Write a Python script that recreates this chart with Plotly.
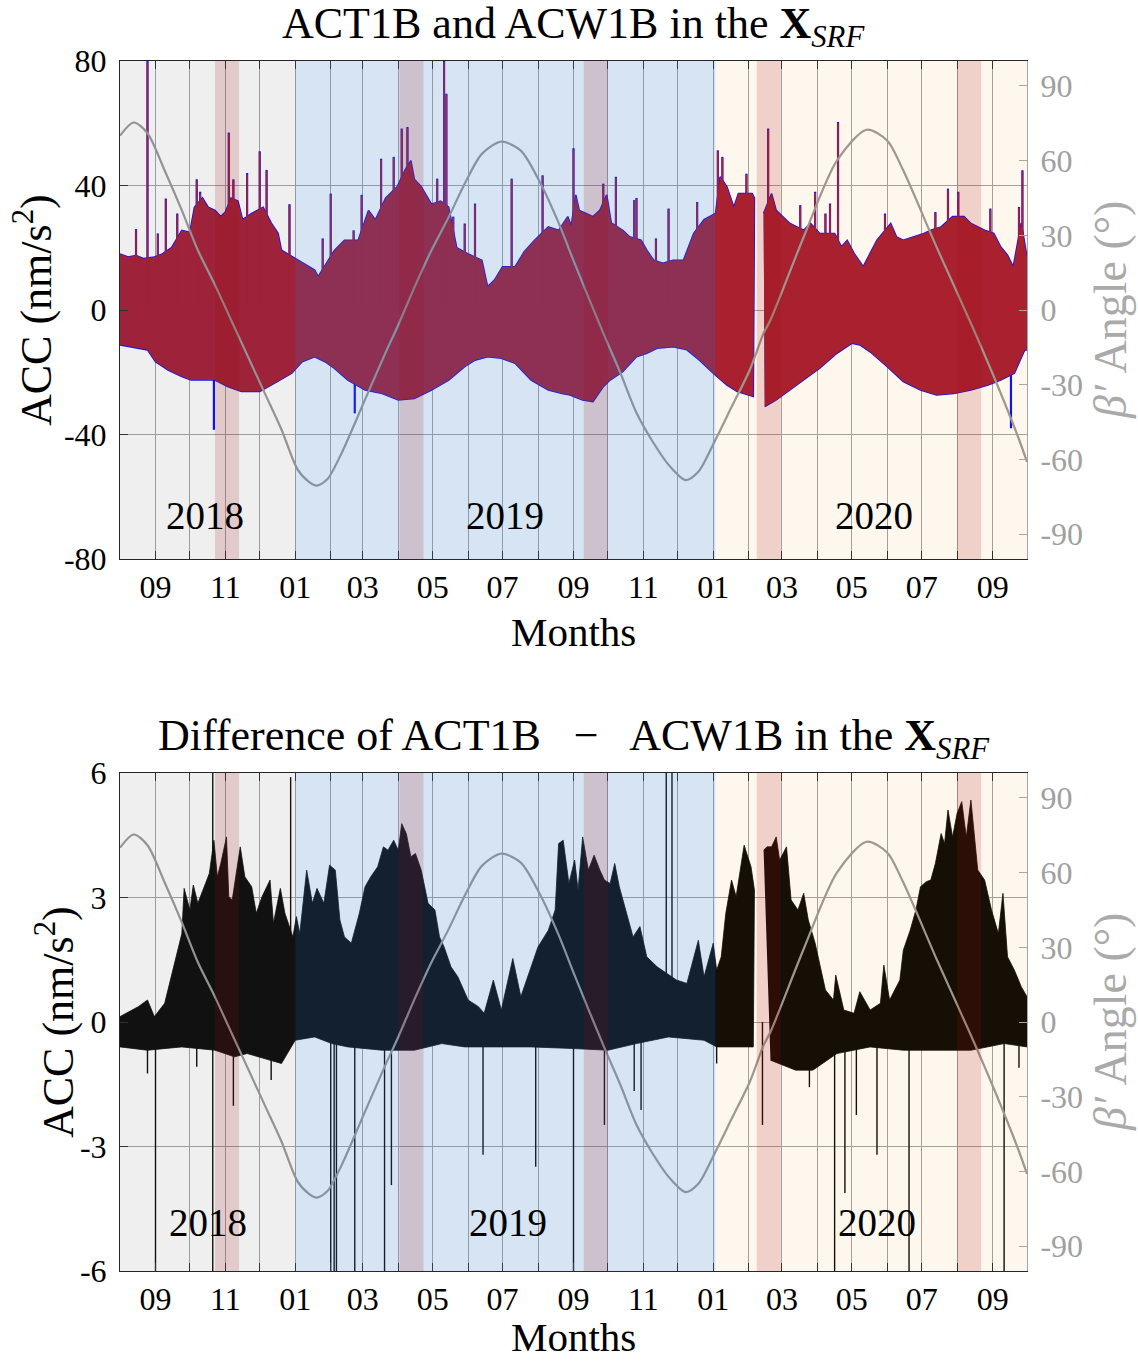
import plotly.graph_objects as go
from plotly.subplots import make_subplots
import pandas as pd

X_START, X_END = "2018-08-01", "2020-10-01"
DATA_GAP = ("2020-02-06", "2020-02-14")  # no data between these dates

# ---------------- top panel: ACT1B / ACW1B envelopes (nm/s^2) ----------------
TOP_UP = [
    ("2018-08-01", 18), ("2018-08-08", 17), ("2018-08-15", 17.5), ("2018-08-22", 16.5),
    ("2018-08-31", 17), ("2018-09-07", 18), ("2018-09-15", 20), ("2018-09-24", 25.6),
    ("2018-10-01", 25), ("2018-10-05", 33), ("2018-10-12", 36), ("2018-10-17", 33),
    ("2018-10-23", 32), ("2018-10-28", 30), ("2018-11-01", 31.5), ("2018-11-06", 36),
    ("2018-11-12", 35), ("2018-11-16", 29), ("2018-11-24", 31), ("2018-12-04", 33),
    ("2018-12-11", 28), ("2018-12-17", 24.6), ("2018-12-20", 19.2), ("2018-12-30", 17),
    ("2019-01-09", 15), ("2019-01-18", 12.8), ("2019-01-21", 10.7), ("2019-01-28", 15),
    ("2019-02-04", 19), ("2019-02-13", 22.4), ("2019-02-25", 22.4), ("2019-03-06", 32),
    ("2019-03-12", 29), ("2019-03-21", 36), ("2019-03-31", 39.6), ("2019-04-07", 45),
    ("2019-04-12", 48), ("2019-04-15", 42), ("2019-04-21", 39.6), ("2019-04-30", 34),
    ("2019-05-08", 35), ("2019-05-15", 33), ("2019-05-22", 20), ("2019-06-01", 18),
    ("2019-06-13", 16), ("2019-06-18", 7.5), ("2019-06-24", 9.6), ("2019-07-01", 13.9),
    ("2019-07-12", 13.9), ("2019-07-20", 18.7), ("2019-07-29", 22.4), ("2019-08-10", 26.7),
    ("2019-08-19", 25.6), ("2019-08-27", 30), ("2019-08-30", 27), ("2019-09-03", 37),
    ("2019-09-06", 32), ("2019-09-12", 31), ("2019-09-18", 30), ("2019-09-24", 32),
    ("2019-09-30", 37), ("2019-10-04", 28), ("2019-10-14", 25.6), ("2019-10-20", 23.5),
    ("2019-10-30", 22.4), ("2019-11-04", 19.2), ("2019-11-10", 16), ("2019-11-18", 15),
    ("2019-11-27", 16), ("2019-12-06", 16), ("2019-12-10", 20), ("2019-12-15", 24.6),
    ("2019-12-24", 29), ("2020-01-03", 31), ("2020-01-07", 42.8), ("2020-01-13", 39.6),
    ("2020-01-19", 33), ("2020-01-23", 37.4), ("2020-02-04", 37.4), ("2020-02-06", 36),
    ("2020-02-14", 31), ("2020-02-21", 37.4), ("2020-02-25", 32), ("2020-03-02", 30),
    ("2020-03-08", 27.8), ("2020-03-20", 25.6), ("2020-03-26", 27.8), ("2020-04-03", 24.6),
    ("2020-04-16", 24.6), ("2020-04-22", 20.3), ("2020-04-27", 22.4), ("2020-05-03", 18.2),
    ("2020-05-11", 13.9), ("2020-05-17", 18.2), ("2020-05-23", 22.4), ("2020-06-04", 27.8),
    ("2020-06-09", 23.5), ("2020-06-15", 22.4), ("2020-06-24", 23.5), ("2020-07-03", 24.6),
    ("2020-07-09", 25.6), ("2020-07-18", 26.7), ("2020-07-28", 30), ("2020-08-07", 30),
    ("2020-08-13", 27.8), ("2020-08-19", 26.7), ("2020-08-25", 25.6), ("2020-09-02", 24.6),
    ("2020-09-08", 20.3), ("2020-09-14", 17.6), ("2020-09-19", 13.9), ("2020-09-23", 22),
    ("2020-09-26", 28), ("2020-10-01", 17),
]
TOP_LO = [
    ("2018-08-01", -11.2), ("2018-08-25", -12.8), ("2018-09-01", -16.6), ("2018-09-12", -19.3),
    ("2018-09-24", -21.4), ("2018-10-02", -22.5), ("2018-10-23", -22.5), ("2018-11-03", -24.6),
    ("2018-11-15", -26.2), ("2018-12-01", -26.2), ("2018-12-14", -23.5), ("2018-12-29", -20.3),
    ("2019-01-07", -16.6), ("2019-01-18", -15), ("2019-01-27", -16.6), ("2019-02-04", -18.7),
    ("2019-02-16", -22.5), ("2019-03-03", -25.7), ("2019-03-18", -26.8), ("2019-04-01", -28.9),
    ("2019-04-15", -28.4), ("2019-04-30", -25.7), ("2019-05-15", -22.5), ("2019-05-29", -18.2),
    ("2019-06-07", -16.1), ("2019-06-18", -15), ("2019-06-30", -15.5), ("2019-07-12", -17.1),
    ("2019-07-26", -22.5), ("2019-08-10", -25.7), ("2019-08-22", -26.8), ("2019-08-29", -27.3),
    ("2019-09-09", -28.9), ("2019-09-18", -29.4), ("2019-09-27", -24.6), ("2019-10-03", -22.5),
    ("2019-10-14", -19.8), ("2019-10-26", -15), ("2019-11-04", -13.9), ("2019-11-13", -12.3),
    ("2019-11-27", -11.8), ("2019-12-09", -12.8), ("2019-12-20", -16.1), ("2020-01-01", -20.3),
    ("2020-01-13", -24.1), ("2020-01-22", -26.2), ("2020-02-05", -27.8), ("2020-02-15", -31),
    ("2020-02-25", -28.9), ("2020-03-08", -25.7), ("2020-03-20", -22.5), ("2020-04-03", -18.7),
    ("2020-04-18", -13.9), ("2020-05-01", -10.7), ("2020-05-08", -11.2), ("2020-05-17", -13.4),
    ("2020-06-01", -18.2), ("2020-06-15", -23), ("2020-06-30", -25.7), ("2020-07-14", -27.3),
    ("2020-07-29", -26.8), ("2020-08-13", -25.7), ("2020-08-28", -24.1), ("2020-09-08", -22.5),
    ("2020-09-20", -20.3), ("2020-09-29", -12.8), ("2020-10-01", -12.8),
]
TOP_SPIKE_DATES = [
    "2018-08-15", "2018-08-25", "2018-09-03", "2018-09-10", "2018-09-20", "2018-10-07",
    "2018-10-10", "2018-11-04", "2018-11-08", "2018-11-20", "2018-12-01", "2018-12-07",
    "2018-12-27", "2019-01-25", "2019-02-01", "2019-02-21", "2019-02-28", "2019-03-17",
    "2019-03-28", "2019-04-04", "2019-04-09", "2019-05-05", "2019-05-11", "2019-05-13",
    "2019-05-19", "2019-05-29", "2019-06-07", "2019-07-09", "2019-08-05", "2019-09-01",
    "2019-09-27", "2019-10-08", "2019-10-24", "2019-10-26", "2019-11-12", "2019-11-23",
    "2019-12-18", "2020-01-05", "2020-01-09", "2020-01-30", "2020-02-18", "2020-03-17",
    "2020-03-30", "2020-04-08", "2020-04-12", "2020-04-19", "2020-05-30", "2020-07-13",
    "2020-07-24", "2020-08-02", "2020-08-30", "2020-09-24", "2020-09-27",
]
TOP_SPIKE_VALS = [
    26, 80, 24.6, 35.8, 31, 42, 38, 57, 42, 44, 51, 45, 34, 23, 37.4, 25.6, 37, 48.6,
    49.2, 58.3, 58.8, 42.2, 80, 69.5, 30, 27.8, 34.2, 42.2, 43.3, 52, 40.6, 42.8, 35.3,
    36, 23, 32.6, 34.7, 51.3, 49.2, 43.8, 58.3, 33.7, 38, 31, 34.2, 60.4, 31, 31.5, 39,
    38, 32.6, 33.1, 44.9,
]
TOP_NEG_SPIKE_DATES = ["2018-10-22", "2019-02-22", "2020-09-17"]
TOP_NEG_SPIKE_VALS = [-38.5, -33.2, -38]

# ---------------- bottom panel: ACT1B - ACW1B (nm/s^2) ----------------
BOT_UP = [
    ("2018-08-01", 0.13), ("2018-08-09", 0.25), ("2018-08-17", 0.37), ("2018-08-25", 0.53),
    ("2018-08-31", 0.13), ("2018-09-09", 0.45), ("2018-09-13", 0.93), ("2018-09-19", 1.57),
    ("2018-09-24", 2.13), ("2018-09-26", 3.22), ("2018-10-01", 2.7), ("2018-10-04", 3.3),
    ("2018-10-08", 2.86), ("2018-10-14", 3.3), ("2018-10-18", 3.58), ("2018-10-22", 4.38),
    ("2018-10-25", 3.5), ("2018-10-28", 3.82), ("2018-11-02", 4.46), ("2018-11-04", 3.02),
    ("2018-11-07", 2.94), ("2018-11-14", 4.22), ("2018-11-18", 3.5), ("2018-11-24", 3.26),
    ("2018-11-28", 2.62), ("2018-12-03", 3.02), ("2018-12-10", 3.42), ("2018-12-13", 2.38),
    ("2018-12-19", 3.22), ("2018-12-23", 2.62), ("2018-12-30", 2.05), ("2019-01-02", 2.54),
    ("2019-01-05", 2.13), ("2019-01-11", 3.66), ("2019-01-16", 2.86), ("2019-01-20", 3.22),
    ("2019-01-26", 2.86), ("2019-01-31", 3.78), ("2019-02-05", 3.66), ("2019-02-09", 2.46),
    ("2019-02-13", 2.05), ("2019-02-19", 1.9), ("2019-02-26", 2.62), ("2019-03-03", 3.26),
    ("2019-03-08", 3.5), ("2019-03-14", 3.74), ("2019-03-19", 4.22), ("2019-03-23", 4.14),
    ("2019-03-28", 4.38), ("2019-04-01", 4.14), ("2019-04-04", 4.78), ("2019-04-08", 4.54),
    ("2019-04-12", 3.98), ("2019-04-16", 4.06), ("2019-04-21", 3.66), ("2019-04-27", 2.86),
    ("2019-05-03", 2.7), ("2019-05-07", 2.05), ("2019-05-11", 1.81), ("2019-05-17", 1.33),
    ("2019-05-23", 1.09), ("2019-06-01", 0.53), ("2019-06-10", 0.37), ("2019-06-15", 0.21),
    ("2019-06-23", 1.01), ("2019-06-30", 0.29), ("2019-07-10", 1.53), ("2019-07-17", 0.61),
    ("2019-07-26", 1.33), ("2019-08-01", 1.81), ("2019-08-10", 2.21), ("2019-08-16", 2.7),
    ("2019-08-19", 4.3), ("2019-08-23", 4.38), ("2019-08-28", 3.34), ("2019-09-02", 3.9),
    ("2019-09-05", 3.18), ("2019-09-09", 4.46), ("2019-09-14", 3.66), ("2019-09-19", 4.02),
    ("2019-09-24", 3.66), ("2019-09-28", 3.42), ("2019-10-03", 3.34), ("2019-10-07", 3.82),
    ("2019-10-11", 3.26), ("2019-10-17", 2.62), ("2019-10-23", 2.05), ("2019-10-29", 2.3),
    ("2019-11-04", 1.57), ("2019-11-13", 1.33), ("2019-11-21", 1.17), ("2019-11-30", 1.01),
    ("2019-12-09", 0.93), ("2019-12-19", 1.97), ("2019-12-24", 1.09), ("2020-01-01", 1.9),
    ("2020-01-04", 1.25), ("2020-01-08", 1.57), ("2020-01-12", 2.62), ("2020-01-17", 3.42),
    ("2020-01-21", 3.02), ("2020-01-28", 4.26), ("2020-02-03", 3.74), ("2020-02-06", 3.18),
    ("2020-02-14", 4.14), ("2020-02-17", 4.22), ("2020-02-21", 4.22), ("2020-02-25", 4.46),
    ("2020-02-28", 3.9), ("2020-03-05", 4.22), ("2020-03-09", 2.94), ("2020-03-15", 2.7),
    ("2020-03-20", 3.1), ("2020-03-24", 2.46), ("2020-03-30", 1.9), ("2020-04-03", 1.41),
    ("2020-04-08", 0.77), ("2020-04-15", 0.53), ("2020-04-17", 1.13), ("2020-04-24", 0.29),
    ("2020-05-03", 0.21), ("2020-05-08", 0.73), ("2020-05-17", 0.29), ("2020-05-26", 0.45),
    ("2020-05-29", 1.37), ("2020-06-03", 0.53), ("2020-06-12", 1.01), ("2020-06-15", 1.73),
    ("2020-06-21", 2.21), ("2020-06-26", 2.7), ("2020-06-30", 3.26), ("2020-07-05", 3.38),
    ("2020-07-09", 3.42), ("2020-07-13", 3.82), ("2020-07-18", 4.54), ("2020-07-21", 4.3),
    ("2020-07-24", 5.11), ("2020-07-28", 4.46), ("2020-08-01", 5.03), ("2020-08-05", 5.31),
    ("2020-08-09", 4.46), ("2020-08-13", 5.35), ("2020-08-19", 3.66), ("2020-08-25", 3.42),
    ("2020-08-31", 2.7), ("2020-09-06", 2.13), ("2020-09-10", 3.1), ("2020-09-14", 1.57),
    ("2020-09-20", 1.25), ("2020-09-26", 0.85), ("2020-10-01", 0.61),
]
BOT_LO = [
    ("2018-08-01", -0.6), ("2018-08-25", -0.68), ("2018-09-24", -0.6), ("2018-10-23", -0.68),
    ("2018-11-09", -0.84), ("2018-11-20", -0.76), ("2018-12-20", -1.0), ("2019-01-01", -0.44),
    ("2019-01-18", -0.36), ("2019-02-02", -0.52), ("2019-02-16", -0.6), ("2019-03-18", -0.68),
    ("2019-04-15", -0.68), ("2019-05-09", -0.52), ("2019-05-29", -0.6), ("2019-07-26", -0.6),
    ("2019-09-01", -0.64), ("2019-10-01", -0.68), ("2019-10-26", -0.52), ("2019-11-23", -0.36),
    ("2019-12-24", -0.44), ("2020-01-04", -0.6), ("2020-02-05", -0.6), ("2020-02-20", -0.92),
    ("2020-03-13", -1.16), ("2020-03-28", -1.16), ("2020-04-18", -0.76), ("2020-05-17", -0.6),
    ("2020-06-15", -0.68), ("2020-08-13", -0.68), ("2020-09-11", -0.52), ("2020-10-01", -0.6),
]
BOT_SPIKE_DATES = ["2018-10-21", "2018-12-28", "2019-11-21", "2019-11-26"]
BOT_SPIKE_VALS = [6, 5.9, 6, 6]
BOT_NEG_SPIKE_DATES = [
    "2018-08-25", "2018-09-01", "2018-10-07", "2018-10-21", "2018-11-08", "2018-12-11",
    "2019-02-01", "2019-02-04", "2019-02-06", "2019-02-22", "2019-03-20", "2019-03-26",
    "2019-06-14", "2019-07-30", "2019-09-01", "2019-09-28", "2019-10-24", "2019-10-30",
    "2020-01-04", "2020-02-13", "2020-03-25", "2020-04-16", "2020-04-25", "2020-05-05",
    "2020-05-23", "2020-06-20", "2020-09-11", "2020-09-24",
]
BOT_NEG_SPIKE_VALS = [
    -1.24, -6, -1.08, -6, -2.02, -1.4, -6, -6, -6, -6, -6, -3.93, -3.2, -3.49, -6,
    -2.48, -1.66, -2.12, -1.0, -2.48, -1.57, -6, -4.12, -2.24, -3.2, -6, -6, -1.1,
]

# ---------------- beta-prime angle (deg) ----------------
BETA_DATES = [
    "2018-08-01", "2018-08-13", "2018-08-25", "2018-09-09", "2018-09-24", "2018-10-08",
    "2018-10-23", "2018-11-07", "2018-11-22", "2018-12-07", "2018-12-20", "2019-01-03",
    "2019-01-13", "2019-01-20", "2019-01-29", "2019-02-11", "2019-03-02", "2019-03-21",
    "2019-04-01", "2019-04-15", "2019-04-30", "2019-05-15", "2019-05-29", "2019-06-13",
    "2019-06-30", "2019-07-17", "2019-08-03", "2019-08-19", "2019-09-02", "2019-09-27",
    "2019-10-12", "2019-10-26", "2019-11-08", "2019-11-24", "2019-12-08", "2019-12-19",
    "2020-01-02", "2020-01-17", "2020-02-02", "2020-02-14", "2020-02-20", "2020-03-20",
    "2020-04-18", "2020-05-14", "2020-06-01", "2020-06-15", "2020-07-14", "2020-08-13",
    "2020-09-02", "2020-09-23", "2020-10-01",
]
BETA_VALS = [
    70, 75.3, 71, 56, 40, 24, 10, -5, -20, -35, -48, -64, -69, -70.5, -68, -57, -37, -17,
    -6, 9, 24, 37.3, 50.7, 62.7, 67.6, 64, 51, 35, 18.7, -9.3, -25.3, -41.3, -52, -62.7,
    -68.3, -65, -53, -39, -24, -9.3, -4, 29.3, 60, 72.4, 68, 56, 25.3, -5.3, -26.7, -50.7,
    -61,
]

# ---------------- shading ----------------
YEAR_SPANS = [("2018-08-01", "2019-01-01"), ("2019-01-01", "2020-01-03"), ("2020-01-03", "2020-10-01")]
YEAR_LABELS = ["2018", "2019", "2020"]
TOP_YEAR_LABEL_DATES = ["2018-10-14", "2019-07-03", "2020-05-20"]
BOT_YEAR_LABEL_DATES = ["2018-10-17", "2019-07-06", "2020-05-23"]
BANDS = [("2018-10-23", "2018-11-13"), ("2019-04-02", "2019-04-23"), ("2019-09-10", "2019-10-01"),
         ("2020-02-08", "2020-02-29"), ("2020-08-01", "2020-08-22")]

YEAR_COLORS = ["rgba(128,128,128,0.13)", "rgba(78,139,209,0.23)", "rgba(245,170,60,0.09)"]
BAND_COLOR = "rgba(162,12,12,0.16)"
RED = "#A2142F"
BLUE = "#0000FF"
BETA_COLOR = "rgb(150,150,150)"
GRID = "rgb(160,160,160)"
AX = "#262626"
RIGHT_AX = "rgb(165,165,165)"
FONT = "Liberation Serif"

# ---------------- helpers ----------------
def segments(pairs):
    before = [p for p in pairs if p[0] <= DATA_GAP[0]]
    after = [p for p in pairs if p[0] >= DATA_GAP[1]]
    return [before, after]


def polygons(up, lo):
    polys = []
    for su, sl in zip(segments(up), segments(lo)):
        xs = [d for d, _ in su] + [d for d, _ in reversed(sl)]
        ys = [v for _, v in su] + [v for _, v in reversed(sl)]
        polys.append((xs, ys))
    return polys


def spikes(dates, vals):
    xs, ys = [], []
    for d, v in zip(dates, vals):
        xs += [d, d, None]
        ys += [0, v, None]
    return xs, ys


fig = make_subplots(rows=2, cols=1, specs=[[{"secondary_y": True}], [{"secondary_y": True}]])

# ---- top panel ----
for xs, ys in polygons(TOP_UP, TOP_LO):
    fig.add_trace(go.Scatter(x=xs, y=ys, fill="toself", fillcolor=BLUE, mode="lines",
                             line=dict(color=BLUE, width=1.6), hoverinfo="skip", showlegend=False),
                  row=1, col=1, secondary_y=False)
sx, sy = spikes(TOP_SPIKE_DATES + TOP_NEG_SPIKE_DATES, TOP_SPIKE_VALS + TOP_NEG_SPIKE_VALS)
fig.add_trace(go.Scatter(x=sx, y=sy, mode="lines", line=dict(color=BLUE, width=2.2),
                         hoverinfo="skip", showlegend=False), row=1, col=1, secondary_y=False)
for xs, ys in polygons(TOP_UP, TOP_LO):
    fig.add_trace(go.Scatter(x=xs, y=ys, fill="toself", fillcolor=RED, mode="lines",
                             line=dict(color=RED, width=0), hoverinfo="skip", showlegend=False),
                  row=1, col=1, secondary_y=False)
sx, sy = spikes(TOP_SPIKE_DATES, [v - 0.4 for v in TOP_SPIKE_VALS])
fig.add_trace(go.Scatter(x=sx, y=sy, mode="lines", line=dict(color=RED, width=1.7),
                         hoverinfo="skip", showlegend=False), row=1, col=1, secondary_y=False)
fig.add_trace(go.Scatter(x=BETA_DATES, y=BETA_VALS, mode="lines",
                         line=dict(color=BETA_COLOR, width=2.2, shape="spline", smoothing=0.8),
                         hoverinfo="skip", showlegend=False), row=1, col=1, secondary_y=True)

# ---- bottom panel ----
for xs, ys in polygons(BOT_UP, BOT_LO):
    fig.add_trace(go.Scatter(x=xs, y=ys, fill="toself", fillcolor="black", mode="lines",
                             line=dict(color="black", width=0.8), hoverinfo="skip", showlegend=False),
                  row=2, col=1, secondary_y=False)
sx, sy = spikes(BOT_SPIKE_DATES + BOT_NEG_SPIKE_DATES, BOT_SPIKE_VALS + BOT_NEG_SPIKE_VALS)
fig.add_trace(go.Scatter(x=sx, y=sy, mode="lines", line=dict(color="black", width=1.4),
                         hoverinfo="skip", showlegend=False), row=2, col=1, secondary_y=False)
fig.add_trace(go.Scatter(x=BETA_DATES, y=BETA_VALS, mode="lines",
                         line=dict(color=BETA_COLOR, width=2.2, shape="spline", smoothing=0.8),
                         hoverinfo="skip", showlegend=False), row=2, col=1, secondary_y=True)

# ---- overlays (year shading and highlighted bands), drawn above the data ----
shapes = []
for xref, yref in (("x", "y domain"), ("x2", "y3 domain")):
    for (a, b), c in zip(YEAR_SPANS, YEAR_COLORS):
        shapes.append(dict(type="rect", xref=xref, yref=yref, x0=a, x1=b, y0=0, y1=1,
                           fillcolor=c, line=dict(width=0), layer="above"))
    for a, b in BANDS:
        shapes.append(dict(type="rect", xref=xref, yref=yref, x0=a, x1=b, y0=0, y1=1,
                           fillcolor=BAND_COLOR, line=dict(width=0), layer="above"))
fig.update_layout(shapes=shapes)

# ---- axes ----
months = pd.date_range(X_START, X_END, freq="MS")
tickvals = [m.strftime("%Y-%m-%d") for m in months]
ticktext = [f"{m.month:02d}" if m.month % 2 == 1 else "" for m in months]

xcommon = dict(range=[X_START, X_END], tickmode="array", tickvals=tickvals, ticktext=ticktext,
               ticks="inside", ticklen=8, tickwidth=1, tickcolor=AX, showline=True, linecolor=AX,
               linewidth=1, mirror="ticks", showgrid=True, gridcolor=GRID, gridwidth=1,
               tickfont=dict(family=FONT, size=32, color="black"), automargin=False,
               zeroline=False, domain=[0, 1])
fig.update_xaxes(**xcommon)

PLOT_TOP, PLOT_BOTTOM = 61, 1271
PLOT_H = PLOT_BOTTOM - PLOT_TOP


def py(p):
    return (PLOT_BOTTOM - p) / PLOT_H


def px(p):
    return (p - 120) / 907


left_common = dict(ticks="inside", ticklen=8, tickwidth=1, tickcolor=AX, showline=True, linecolor=AX,
                   linewidth=1, showgrid=True, gridcolor=GRID, gridwidth=1, zeroline=False,
                   tickfont=dict(family=FONT, size=32, color="black"), automargin=False,
                   ticklabelstandoff=6)
right_common = dict(ticks="inside", ticklen=8, tickwidth=1, tickcolor=RIGHT_AX, showline=True,
                    linecolor=RIGHT_AX, linewidth=1, showgrid=False, zeroline=False,
                    tickfont=dict(family=FONT, size=32, color="rgb(160,160,160)"), automargin=False,
                    range=[-100, 100], tickmode="array", tickvals=[-90, -60, -30, 0, 30, 60, 90],
                    ticktext=["-90", "-60", "-30", "0", "30", "60", "90"], ticklabelstandoff=6)

fig.update_layout(
    yaxis=dict(range=[-80, 80], tickmode="array", tickvals=[-80, -40, 0, 40, 80],
               ticktext=["-80", "-40", "0", "40", "80"], domain=[py(559), 1], **left_common),
    yaxis2=dict(**right_common),
    yaxis3=dict(range=[-6, 6], tickmode="array", tickvals=[-6, -3, 0, 3, 6],
                ticktext=["-6", "-3", "0", "3", "6"], domain=[0, py(773)], **left_common),
    yaxis4=dict(**right_common),
)

ann = []
title_font = dict(family=FONT, size=44, color="black")
ann.append(dict(text="ACT1B and ACW1B in the <b>X</b><sub><i>SRF</i></sub>", xref="paper", yref="paper",
                x=0.5, y=py(27), xanchor="center", yanchor="middle", showarrow=False, font=title_font))
ann.append(dict(text="Difference of ACT1B \u2002\u2212\u2002 ACW1B in the <b>X</b><sub><i>SRF</i></sub>",
                xref="paper", yref="paper", x=0.5, y=py(738), xanchor="center", yanchor="middle",
                showarrow=False, font=title_font))
lab_font = dict(family=FONT, size=41, color="black")
ann.append(dict(text="Months", xref="paper", yref="paper", x=0.5, y=py(632), xanchor="center",
                yanchor="middle", showarrow=False, font=lab_font))
ann.append(dict(text="Months", xref="paper", yref="paper", x=0.5, y=py(1361), xanchor="center",
                yanchor="bottom", showarrow=False, font=lab_font, borderpad=0))
for xc, yc in ((33, 310), (55, 1022)):
    ann.append(dict(text="ACC (nm/s<sup>2</sup>)", xref="paper", yref="paper", x=px(xc), y=py(yc),
                    xanchor="center", yanchor="middle", textangle=-90, showarrow=False,
                    font=dict(family=FONT, size=44, color="black")))
    ann.append(dict(text="<i>\u03b2\u2032</i> Angle (\u00b0)", xref="paper", yref="paper", x=px(1110), y=py(yc),
                    xanchor="center", yanchor="middle", textangle=-90, showarrow=False,
                    font=dict(family=FONT, size=46, color="rgb(170,170,170)")))
year_font = dict(family=FONT, size=39, color="black")
for lab, d in zip(YEAR_LABELS, TOP_YEAR_LABEL_DATES):
    ann.append(dict(text=lab, xref="x", yref="y", x=d, y=-66, showarrow=False, font=year_font,
                    xanchor="center", yanchor="middle"))
for lab, d in zip(YEAR_LABELS, BOT_YEAR_LABEL_DATES):
    ann.append(dict(text=lab, xref="x2", yref="y3", x=d, y=-4.82, showarrow=False, font=year_font,
                    xanchor="center", yanchor="middle"))

fig.update_layout(
    annotations=ann,
    width=1138, height=1362,
    margin=dict(l=120, r=111, t=PLOT_TOP, b=1362 - PLOT_BOTTOM, pad=0),
    plot_bgcolor="white", paper_bgcolor="white",
    font=dict(family=FONT),
    showlegend=False,
)

fig.write_html("out.html", config={"displayModeBar": False},
               post_script="document.body.style.margin='0px';document.body.style.overflow='hidden';")
